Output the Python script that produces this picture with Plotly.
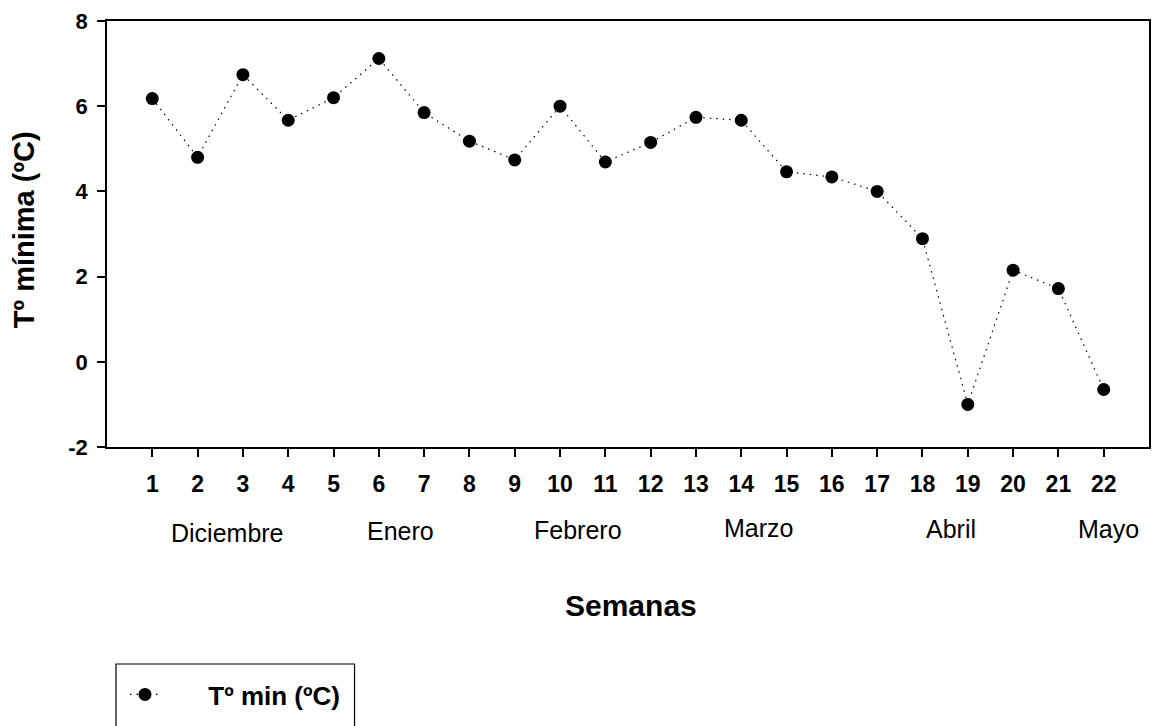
import plotly.graph_objects as go

semanas = list(range(1, 23))
tmin = [6.18, 4.80, 6.74, 5.67, 6.20, 7.12, 5.85, 5.18, 4.74, 6.00, 4.69,
        5.15, 5.74, 5.67, 4.46, 4.34, 4.00, 2.89, -1.00, 2.15, 1.72, -0.65]
meses = ["Diciembre", "Enero", "Febrero", "Marzo", "Abril", "Mayo"]
meses_x = [2.67, 6.47, 10.4, 14.37, 18.63, 22.1]
meses_ypx = [533, 531, 530, 528, 529, 529]

FONT = "Arial, Liberation Sans, sans-serif"
L, R, T, B = 107, 1, 21, 279
W, H = 1152, 726
ph = H - T - B
pw = W - L - R

fig = go.Figure()
fig.add_trace(go.Scatter(
    x=semanas, y=tmin, mode="lines+markers",
    name="&nbsp;" * 6 + "<b>Tº min (ºC)</b>",
    line=dict(color="black", width=1.2, dash="1.5px,5px"),
    marker=dict(color="black", size=13),
))

annotations = []
for m, mx, my in zip(meses, meses_x, meses_ypx):
    annotations.append(dict(x=mx, y=(H - B - my) / ph, xref="x", yref="paper",
                            text=m, showarrow=False, yanchor="middle",
                            font=dict(family=FONT, size=25, color="black")))
annotations.append(dict(x=(632 - L) / pw, y=(H - B - 605) / ph,
                        xref="paper", yref="paper", text="<b>Semanas</b>",
                        showarrow=False, yanchor="middle",
                        font=dict(family=FONT, size=30, color="black")))
annotations.append(dict(x=(24 - L) / pw, y=(H - B - 230) / ph,
                        xref="paper", yref="paper", text="<b>Tº mínima (ºC)</b>",
                        showarrow=False, textangle=-90,
                        xanchor="center", yanchor="middle",
                        font=dict(family=FONT, size=29, color="black")))

shapes = [dict(type="rect", xref="paper", yref="paper",
               x0=(116 - L) / pw, x1=(355 - L) / pw,
               y0=(H - B - 740) / ph, y1=(H - B - 664) / ph,
               line=dict(color="black", width=1.2), fillcolor="rgba(0,0,0,0)")]

fig.update_layout(
    width=W, height=H,
    margin=dict(l=L, r=R, t=T, b=B, pad=0),
    paper_bgcolor="white", plot_bgcolor="white",
    font=dict(family=FONT, color="black"),
    showlegend=True,
    legend=dict(x=(125 - L) / pw, y=(H - B - 671) / ph,
                xanchor="left", yanchor="top",
                bgcolor="rgba(0,0,0,0)", borderwidth=0,
                font=dict(family=FONT, size=26, color="black"),
                itemwidth=30),
    annotations=annotations,
    shapes=shapes,
    xaxis=dict(range=[0, 23], tickmode="array", tickvals=semanas,
               ticktext=[f"<b>{s}</b>" for s in semanas],
               ticks="outside", ticklen=8, tickwidth=1.5, tickcolor="black",
               showline=True, linecolor="black", linewidth=1.5, mirror=True,
               showgrid=False, zeroline=False,
               tickfont=dict(family=FONT, size=23, color="black"),
               ticklabelstandoff=8),
    yaxis=dict(range=[-2, 8], tickmode="array", tickvals=[-2, 0, 2, 4, 6, 8],
               ticktext=[f"<b>{v}</b>" for v in [-2, 0, 2, 4, 6, 8]],
               ticks="outside", ticklen=8, tickwidth=1.5, tickcolor="black",
               showline=True, linecolor="black", linewidth=1.5, mirror=True,
               showgrid=False, zeroline=False,
               tickfont=dict(family=FONT, size=22, color="black"),
               ticklabelstandoff=5),
)

fig.write_html("out.html",
               config={"displayModeBar": False},
               post_script="document.body.style.margin='0';"
                           "document.body.style.padding='0';"
                           "document.body.style.overflow='hidden';")
